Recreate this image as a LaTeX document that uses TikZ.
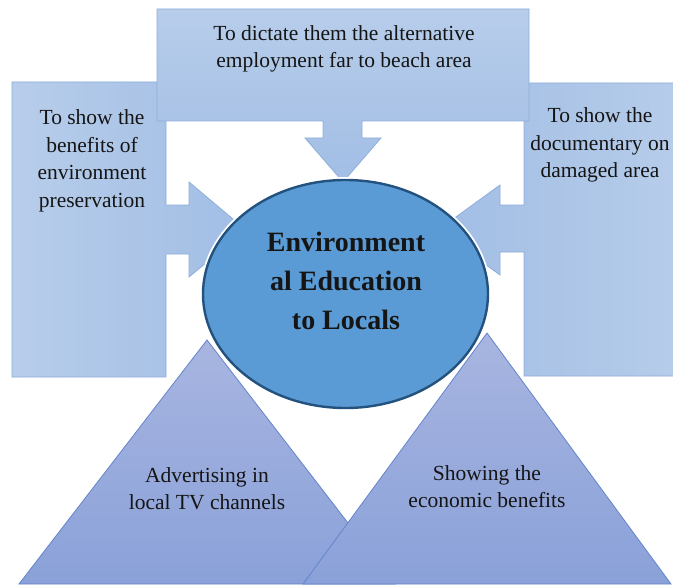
\documentclass[tikz,border=0pt]{standalone}
\usepackage{fontspec}
\setmainfont{Liberation Serif}
\usetikzlibrary{shapes.geometric}
\definecolor{cbord}{HTML}{8EAEDC}
\definecolor{clight}{HTML}{B7CDEA}
\definecolor{cdark}{HTML}{A2BEE5}
\definecolor{ttop}{HTML}{A8B5E0}
\definecolor{tbot}{HTML}{8AA1D9}
\definecolor{tbord}{HTML}{6384CB}
\definecolor{efill}{HTML}{5B9BD5}
\definecolor{ebord}{HTML}{24527F}
\definecolor{txt}{HTML}{151515}
\tikzset{
  callout/.style={draw=cbord, line width=0.8pt},
  tri/.style={draw=tbord, line width=0.8pt, top color=ttop, bottom color=tbot},
  lbl/.style={align=center, text=txt, font=\fontsize{21.5}{27.5}\selectfont, inner sep=0pt},
  hubtxt/.style={align=center, text=txt, font=\fontsize{28}{39}\selectfont\bfseries}
}
\begin{document}
\begin{tikzpicture}[x=1pt,y=-1pt]
\clip (0,0) rectangle (673,586);
\fill[white] (0,0) rectangle (673,586);
% left callout
\path[callout, left color=clight, right color=cdark]
  (12,82) -- (166,82) -- (166,205) -- (189,205) -- (189,182) -- (246,230)
  -- (189,277) -- (189,254) -- (166,254) -- (166,377) -- (12,377) -- cycle;
% right callout
\path[callout, left color=cdark, right color=clight]
  (690,83) -- (524,83) -- (524,205) -- (500,205) -- (500,185) -- (438,230)
  -- (500,275) -- (500,252) -- (524,252) -- (524,376) -- (690,376) -- cycle;
% top callout
\path[callout, top color=clight, bottom color=cdark]
  (157,9) -- (529,9) -- (529,121) -- (362,121) -- (362,138) -- (381,138)
  -- (343,182) -- (305,138) -- (323,138) -- (323,121) -- (157,121) -- cycle;
% triangles
\path[tri] (207,340) -- (395,584) -- (19,584) -- cycle;
\path[tri] (487,333) -- (671,584) -- (303,584) -- cycle;
% central ellipse
\draw[white, line width=6pt] (345.5,294) ellipse [x radius=142.5, y radius=114];
\node[ellipse, draw=ebord, line width=2.4pt, fill=efill,
      minimum width=285pt, minimum height=228pt, inner sep=0pt] (hub) at (345.5,294) {};
\node[hubtxt] (hubt) at (346,281) {Environment\\al Education\\to Locals};
% labels
\node[lbl] (ttop) at (344,49) {To dictate them the alternative\\employment far to beach area};
\node[lbl] (tleft) at (92,161) {To show the\\benefits of\\environment\\preservation};
\node[lbl] (tright) at (600,145) {To show the\\documentary on\\damaged area};
\node[lbl] (tbl) at (207,488.5) {Advertising in\\local TV channels};
\node[lbl] (tbr) at (487,486.5) {Showing the\\economic benefits};
\end{tikzpicture}
\end{document}
